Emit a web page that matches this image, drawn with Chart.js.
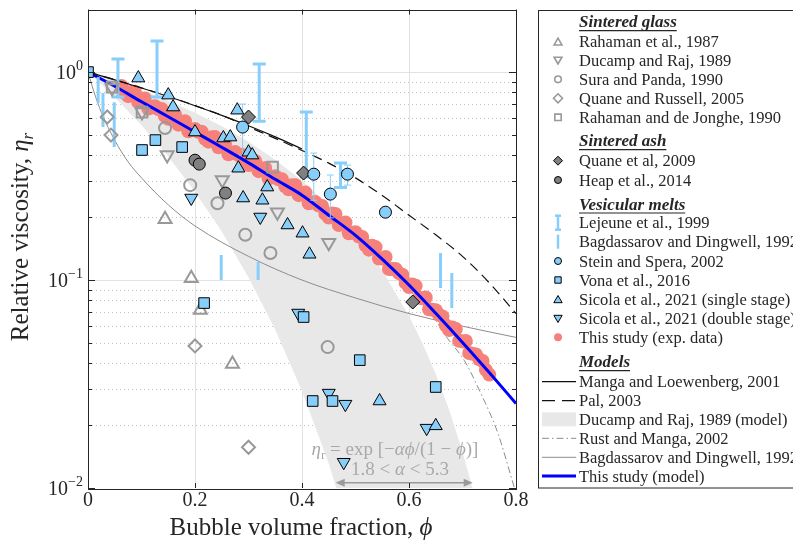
<!DOCTYPE html>
<html>
<head>
<meta charset="utf-8">
<script src="https://cdn.jsdelivr.net/npm/chart.js@4.4.1/dist/chart.umd.min.js"></script>
<style>
  html, body { margin: 0; padding: 0; background: #fff; }
  #wrap { width: 793px; height: 550px; }
</style>
</head>
<body>
<div id="wrap"><canvas id="viscChart" width="793" height="550"></canvas></div>
<script>
// ---- data (phi = bubble volume fraction, eta = relative viscosity) ----

// Sintered glass
const rahaman87Phi = [0.144, 0.193, 0.210, 0.270];
const rahaman87Eta = [0.196, 0.102, 0.0717, 0.0395];
const ducampPhi = [0.045, 0.101, 0.148, 0.251, 0.354, 0.450];
const ducampEta = [0.838, 0.642, 0.399, 0.303, 0.212, 0.151];
const suraPhi = [0.144, 0.191, 0.242, 0.294, 0.341, 0.448];
const suraEta = [0.538, 0.286, 0.234, 0.165, 0.135, 0.0476];
const quaneRussellPhi = [0.036, 0.043, 0.200, 0.300];
const quaneRussellEta = [0.608, 0.498, 0.0482, 0.0157];
const deJonghePhi = [0.045, 0.101, 0.345];
const deJongheEta = [0.847, 0.642, 0.349];

// Sintered ash
const quane09Phi = [0.300, 0.403, 0.607];
const quane09Eta = [0.608, 0.327, 0.0784];
const heapPhi = [0.200, 0.208, 0.257];
const heapEta = [0.377, 0.361, 0.262];

// Vesicular melts
const lejeunePhi = [0.056, 0.129, 0.320, 0.408, 0.472];
const lejeuneLo = [0.758, 0.758, 0.581, 0.313, 0.279];
const lejeuneHi = [1.155, 1.41, 1.093, 0.642, 0.365];
const bagdPhi = [0.019, 0.028, 0.049, 0.249, 0.318, 0.659, 0.680];
const bagdLo = [0.710, 0.544, 0.436, 0.100, 0.100, 0.0916, 0.0734];
const bagdHi = [0.946, 0.793, 0.717, 0.132, 0.122, 0.135, 0.108];
const steinPhi = [0.289, 0.422, 0.453, 0.485, 0.556];
const steinEta = [0.544, 0.323, 0.259, 0.323, 0.212];
const steinErrPhi = [0.289, 0.422, 0.453, 0.485];
const steinLo = [0.399, 0.242, 0.199, 0.286];
const steinHi = [0.702, 0.408, 0.320, 0.357];
const vonaPhi = [0, 0.101, 0.126, 0.176, 0.217, 0.403, 0.420, 0.457, 0.508, 0.650];
const vonaEta = [1, 0.422, 0.471, 0.436, 0.0775, 0.0664, 0.0262, 0.0262, 0.0412, 0.0306];
const sicolaSinglePhi = [0.094, 0.150, 0.159, 0.200, 0.279, 0.253, 0.266, 0.300, 0.307, 0.281,
  0.290, 0.326, 0.335, 0.373, 0.401, 0.414, 0.545, 0.650];
const sicolaSingleEta = [0.936, 0.775, 0.679, 0.515, 0.656, 0.482, 0.487, 0.412, 0.399, 0.345,
  0.248, 0.242, 0.280, 0.184, 0.168, 0.133, 0.0262, 0.0199];
const sicolaDoublePhi = [0.193, 0.322, 0.393, 0.450, 0.481, 0.478, 0.633];
const sicolaDoubleEta = [0.248, 0.201, 0.0694, 0.0286, 0.0253, 0.0133, 0.0194];

// This study, experimental data (dense cloud along the model curve)
const expPhi = [0.0625, 0.075, 0.0875, 0.1, 0.1125, 0.125, 0.1375, 0.15, 0.1625, 0.175, 0.1875, 0.2,
  0.2125, 0.225, 0.2375, 0.25, 0.2625, 0.275, 0.2875, 0.3, 0.3125, 0.325, 0.3375, 0.35, 0.3625, 0.375,
  0.3875, 0.4, 0.4125, 0.425, 0.4375, 0.45, 0.4625, 0.475, 0.4875, 0.5, 0.5125, 0.525, 0.5375, 0.55,
  0.5625, 0.575, 0.5875, 0.6, 0.6125, 0.625, 0.6375, 0.65, 0.6625, 0.675, 0.6875, 0.7, 0.7125, 0.725,
  0.7375, 0.75];
const expEta = [0.857, 0.766, 0.805, 0.728, 0.667, 0.686, 0.665, 0.596, 0.626, 0.567, 0.519, 0.533,
  0.517, 0.463, 0.487, 0.441, 0.403, 0.413, 0.400, 0.357, 0.374, 0.338, 0.308, 0.316, 0.305, 0.273,
  0.286, 0.259, 0.234, 0.237, 0.227, 0.200, 0.208, 0.186, 0.168, 0.170, 0.161, 0.140, 0.144, 0.127,
  0.113, 0.113, 0.106, 0.0925, 0.0938, 0.0818, 0.0723, 0.0716, 0.0668, 0.0575, 0.0582, 0.0507, 0.0446,
  0.0439, 0.0408, 0.0351];
const expPhiB = [0.06875, 0.08125, 0.09375, 0.10625, 0.11875, 0.13125, 0.14375, 0.15625, 0.16875,
  0.18125, 0.19375, 0.20625, 0.21875, 0.23125, 0.24375, 0.25625, 0.26875, 0.28125, 0.29375, 0.30625,
  0.31875, 0.33125, 0.34375, 0.35625, 0.36875, 0.38125, 0.39375, 0.40625, 0.41875, 0.43125, 0.44375,
  0.45625, 0.46875, 0.48125, 0.49375, 0.50625, 0.51875, 0.53125, 0.54375, 0.55625, 0.56875, 0.58125,
  0.59375, 0.60625, 0.61875, 0.63125, 0.64375, 0.65625, 0.66875, 0.68125, 0.69375, 0.70625, 0.71875,
  0.73125, 0.74375];
const expEtaB = [0.792, 0.804, 0.718, 0.746, 0.676, 0.664, 0.615, 0.625, 0.559, 0.581, 0.526, 0.516,
  0.478, 0.486, 0.435, 0.451, 0.408, 0.399, 0.369, 0.374, 0.334, 0.346, 0.312, 0.305, 0.282, 0.286,
  0.256, 0.264, 0.236, 0.228, 0.208, 0.209, 0.184, 0.189, 0.169, 0.162, 0.147, 0.146, 0.127, 0.129,
  0.113, 0.108, 0.0969, 0.0953, 0.0822, 0.0824, 0.0719, 0.0680, 0.0606, 0.0592, 0.0510, 0.0509,
  0.0442, 0.0416, 0.0370];

// Models
const modelPhi = [0, 0.05, 0.1, 0.15, 0.2, 0.25, 0.3, 0.35, 0.4, 0.45, 0.5, 0.55, 0.6, 0.65, 0.7, 0.75, 0.8];
const thisModelEta = [1, 0.855, 0.72, 0.61, 0.515, 0.435, 0.366, 0.305, 0.256, 0.205, 0.164, 0.126,
  0.0946, 0.0692, 0.0501, 0.0359, 0.0255];
const palEta = [1, 0.92, 0.84, 0.765, 0.69, 0.62, 0.545, 0.48, 0.42, 0.365, 0.31, 0.255, 0.205, 0.165,
  0.13, 0.097, 0.069];
const mangaPhi = [0, 0.05, 0.1, 0.15, 0.2, 0.25, 0.3, 0.35, 0.4];
const mangaEta = [1, 0.918, 0.839, 0.763, 0.689, 0.619, 0.552, 0.488, 0.427];
const rustPhi = [0, 0.1, 0.2, 0.3, 0.4, 0.5, 0.6, 0.65, 0.672, 0.703, 0.734, 0.766, 0.791, 0.805];
const rustEta = [1, 0.715, 0.51, 0.36, 0.25, 0.158, 0.09, 0.064, 0.0524, 0.0412, 0.0286, 0.0184, 0.0113, 0.0085];
const bagdCurvePhi = [0, 0.01, 0.025, 0.05, 0.075, 0.1, 0.15, 0.2, 0.3, 0.4, 0.5, 0.6, 0.7, 0.8];
const bagdCurveEta = [1, 0.82, 0.64, 0.47, 0.37, 0.31, 0.23, 0.182, 0.13, 0.10, 0.082, 0.069, 0.06, 0.053];
const bandPhi = [0, 0.05, 0.1, 0.15, 0.2, 0.25, 0.3, 0.35, 0.4, 0.45, 0.5, 0.55, 0.6, 0.625, 0.65,
  0.675, 0.7, 0.725, 0.75];
const bandUpper = [1, 0.910, 0.819, 0.728, 0.638, 0.549, 0.462, 0.379, 0.301, 0.229, 0.165, 0.111,
  0.0672, 0.0498, 0.0353, 0.0238, 0.0150, 0.0087, 0.0045];
const bandLower = [1, 0.757, 0.555, 0.393, 0.266, 0.171, 0.103, 0.0576, 0.0292, 0.0131, 0.0050,
  0.00154, 0.00035, 0.00015, 0.00005, 0.000017, 0.000004, 0.0000009, 0.0000001];
const alphaRange = [0.463, 0.719];   // phi span of the arrow under the band
const arrowEta = 0.0106;

// axis ticks
const xTicks = [0, 0.2, 0.4, 0.6, 0.8];
const xTickLabels = ['0', '0.2', '0.4', '0.6', '0.8'];
const yMajor = [0.01, 0.1, 1];
const yMajorExp = ['\u22122', '\u22121', '0'];
const yMinor = [0.02, 0.03, 0.04, 0.05, 0.06, 0.07, 0.08, 0.09, 0.2, 0.3, 0.4, 0.5, 0.6, 0.7, 0.8, 0.9];

// ---- styling ----
const SERIF = '"Liberation Serif", "DejaVu Serif", serif';
const INK = '#262626';
const LIGHTBLUE = '#87cefa';
const GRAY = '#999999';
const ASH = '#808080';
const SALMON = '#f6817b';
const BAND = '#e8e8e8';
const CLEAR = 'rgba(0,0,0,0)';

const pts = (phi, eta) => phi.map((p, i) => ({ x: p, y: eta[i] }));
const bars = (phi, lo, hi) => phi.flatMap((p, i) => [{ x: p, y: lo[i] }, { x: p, y: hi[i] }, { x: p, y: null }]);

function markers(label, data, style, o) {
  return Object.assign({
    label: label, data: data, showLine: false, pointStyle: style, pointRadius: 6,
    pointRotation: 0, pointBackgroundColor: LIGHTBLUE, pointBorderColor: '#000', pointBorderWidth: 1,
    pointHoverRadius: 6, order: 2
  }, o || {});
}
function curve(label, phi, eta, o) {
  return Object.assign({
    label: label, data: pts(phi, eta), pointRadius: 0, pointHoverRadius: 0, fill: false,
    borderWidth: 1, cubicInterpolationMode: 'monotone', order: 10
  }, o || {});
}
const hollow = { pointBackgroundColor: CLEAR, pointBorderColor: GRAY, pointBorderWidth: 2, order: 4 };
const ash = { pointBackgroundColor: ASH, pointBorderColor: '#000', pointBorderWidth: 1, order: 3 };

const datasets = [
  // Ducamp and Raj model band (upper edge filled down to the lower edge)
  curve('Ducamp and Raj, 1989 (model)', bandPhi, bandUpper,
    { fill: '+1', backgroundColor: BAND, borderColor: CLEAR, borderWidth: 0, cubicInterpolationMode: 'default', tension: 0, order: 30 }),
  curve('band lower', bandPhi, bandLower,
    { borderColor: CLEAR, borderWidth: 0, cubicInterpolationMode: 'default', tension: 0, order: 30 }),
  curve('Bagdassarov and Dingwell, 1992', bagdCurvePhi, bagdCurveEta, { borderColor: '#8c8c8c', order: 20 }),
  curve('Rust and Manga, 2002', rustPhi, rustEta, { borderColor: '#8c8c8c', borderDash: [7, 3, 1.5, 3], order: 20 }),
  markers('This study (exp. data)', pts(expPhi, expEta).concat(pts(expPhiB, expEtaB)), 'circle',
    { pointBackgroundColor: SALMON, pointBorderWidth: 0, pointRadius: 7, order: 15 }),
  curve('This study (model)', modelPhi, thisModelEta, { borderColor: '#0000ff', borderWidth: 3, order: 14 }),
  curve('Manga and Loewenberg, 2001', mangaPhi, mangaEta, { borderColor: '#111', borderWidth: 1.2, order: 12 }),
  curve('Pal, 2003', modelPhi, palEta, { borderColor: '#111', borderWidth: 1.2, borderDash: [10, 6], order: 12 }),
  // sintered glass
  markers('Rahaman et al., 1987', pts(rahaman87Phi, rahaman87Eta), 'triangle', Object.assign({ pointRadius: 7.5 }, hollow)),
  markers('Ducamp and Raj, 1989', pts(ducampPhi, ducampEta), 'triangle', Object.assign({ pointRadius: 7.5, pointRotation: 180 }, hollow)),
  markers('Sura and Panda, 1990', pts(suraPhi, suraEta), 'circle', Object.assign({ pointRadius: 6 }, hollow)),
  markers('Quane and Russell, 2005', pts(quaneRussellPhi, quaneRussellEta), 'rectRot', Object.assign({ pointRadius: 6.5 }, hollow)),
  markers('Rahaman and de Jonghe, 1990', pts(deJonghePhi, deJongheEta), 'rect', Object.assign({ pointRadius: 7.5 }, hollow)),
  // sintered ash
  markers('Quane et al, 2009', pts(quane09Phi, quane09Eta), 'rectRot', Object.assign({ pointRadius: 7 }, ash)),
  markers('Heap et al., 2014', pts(heapPhi, heapEta), 'circle', Object.assign({ pointRadius: 6 }, ash)),
  // vesicular melts
  { label: 'Lejeune et al., 1999', data: bars(lejeunePhi, lejeuneLo, lejeuneHi), spanGaps: false,
    borderColor: LIGHTBLUE, borderWidth: 3, pointStyle: 'line', pointRadius: 6.5, pointBorderWidth: 3,
    pointBorderColor: LIGHTBLUE, pointHoverRadius: 6.5, order: 6 },
  { label: 'Bagdassarov and Dingwell, 1992 (data)', data: bars(bagdPhi, bagdLo, bagdHi), spanGaps: false,
    borderColor: LIGHTBLUE, borderWidth: 3, pointRadius: 0, pointHoverRadius: 0, order: 6 },
  { label: 'Stein and Spera errors', data: bars(steinErrPhi, steinLo, steinHi), spanGaps: false,
    borderColor: LIGHTBLUE, borderWidth: 1, pointStyle: 'line', pointRadius: 3.5, pointBorderWidth: 1,
    pointBorderColor: LIGHTBLUE, pointHoverRadius: 3.5, order: 6 },
  markers('Stein and Spera, 2002', pts(steinPhi, steinEta), 'circle', { pointRadius: 6 }),
  markers('Vona et al., 2016', pts(vonaPhi, vonaEta), 'rect', { pointRadius: 7.5 }),
  markers('Sicola et al., 2021 (single stage)', pts(sicolaSinglePhi, sicolaSingleEta), 'triangle', { pointRadius: 7.5 }),
  markers('Sicola et al., 2021 (double stage)', pts(sicolaDoublePhi, sicolaDoubleEta), 'triangle', { pointRadius: 7.5, pointRotation: 180 })
];

// ---- drawing helpers ----
function runs(ctx, x, y, parts, align) {
  let total = 0;
  parts.forEach(p => { ctx.font = p[1]; total += ctx.measureText(p[0]).width; });
  let cx = align === 'center' ? x - total / 2 : (align === 'right' ? x - total : x);
  ctx.textAlign = 'left';
  parts.forEach(p => {
    ctx.font = p[1];
    ctx.fillText(p[0], cx, y + (p[2] || 0));
    cx += ctx.measureText(p[0]).width;
  });
  return total;
}
function mark(ctx, style, x, y, r, fill, stroke, lw, rot) {
  ctx.save();
  ctx.fillStyle = fill; ctx.strokeStyle = stroke; ctx.lineWidth = lw;
  Chart.helpers.drawPoint(ctx, { pointStyle: style, radius: r, rotation: rot || 0, borderWidth: lw }, x, y);
  ctx.restore();
}
function seg(ctx, x1, y1, x2, y2) {
  ctx.beginPath(); ctx.moveTo(x1, y1); ctx.lineTo(x2, y2); ctx.stroke();
}

const gridPlugin = {
  id: 'gridPlugin',
  beforeDatasetsDraw(chart) {
    const { ctx, chartArea: a, scales: { x, y } } = chart;
    ctx.save();
    ctx.lineWidth = 1;
    ctx.strokeStyle = '#c2c2c2';
    ctx.setLineDash([1, 3]);
    yMinor.forEach(v => { const py = Math.round(y.getPixelForValue(v)) + 0.5; seg(ctx, a.left, py, a.right, py); });
    ctx.setLineDash([]);
    ctx.strokeStyle = '#e2e2e2';
    [0.1, 1].forEach(v => { const py = Math.round(y.getPixelForValue(v)) + 0.5; seg(ctx, a.left, py, a.right, py); });
    [0.2, 0.4, 0.6].forEach(v => { const px = Math.round(x.getPixelForValue(v)) + 0.5; seg(ctx, px, a.top, px, a.bottom); });
    ctx.restore();
  },
  afterDatasetsDraw(chart) {
    const { ctx, chartArea: a, scales: { x, y } } = chart;
    ctx.save();
    // Ducamp & Raj annotation
    ctx.fillStyle = '#a9a9a9';
    ctx.textBaseline = 'alphabetic';
    const cx = 395;
    runs(ctx, cx, 455, [
      ['\u03b7', 'italic 19px ' + SERIF], ['r', '13px ' + SERIF, 4],
      [' = exp [\u2212', '19px ' + SERIF], ['\u03b1\u03d5', 'italic 19px ' + SERIF],
      ['/(1 \u2212 ', '19px ' + SERIF], ['\u03d5', 'italic 19px ' + SERIF], [')]', '19px ' + SERIF]
    ], 'center');
    runs(ctx, cx + 5, 475, [['1.8 < ', '19px ' + SERIF], ['\u03b1', 'italic 19px ' + SERIF], [' < 5.3', '19px ' + SERIF]], 'center');
    const ax1 = x.getPixelForValue(alphaRange[0]), ax2 = x.getPixelForValue(alphaRange[1]);
    const ay = y.getPixelForValue(arrowEta);
    ctx.strokeStyle = '#9a9a9a'; ctx.fillStyle = '#9a9a9a'; ctx.lineWidth = 1.5;
    seg(ctx, ax1 + 4, ay, ax2 - 4, ay);
    [[ax1, 1], [ax2, -1]].forEach(([px, d]) => {
      ctx.beginPath(); ctx.moveTo(px, ay); ctx.lineTo(px + d * 9, ay - 4); ctx.lineTo(px + d * 9, ay + 4); ctx.closePath(); ctx.fill();
    });
    // axes box and ticks
    ctx.strokeStyle = INK; ctx.lineWidth = 1;
    ctx.strokeRect(Math.round(a.left) + 0.5, Math.round(a.top) + 0.5, Math.round(a.right - a.left), Math.round(a.bottom - a.top));
    xTicks.forEach(v => {
      const px = Math.round(x.getPixelForValue(v)) + 0.5;
      seg(ctx, px, a.bottom, px, a.bottom - 5); seg(ctx, px, a.top, px, a.top + 5);
    });
    yMajor.forEach(v => {
      const py = Math.round(y.getPixelForValue(v)) + 0.5;
      seg(ctx, a.left, py, a.left + 7, py); seg(ctx, a.right, py, a.right - 7, py);
    });
    yMinor.concat([2]).forEach(v => {
      const py = Math.round(y.getPixelForValue(v)) + 0.5;
      seg(ctx, a.left, py, a.left + 4, py); seg(ctx, a.right, py, a.right - 4, py);
    });
    ctx.restore();
  },
  afterDraw(chart) {
    const { ctx, chartArea: a, scales: { x, y } } = chart;
    ctx.save();
    ctx.fillStyle = INK;
    ctx.textBaseline = 'alphabetic';
    // tick labels
    xTicks.forEach((v, i) => {
      runs(ctx, x.getPixelForValue(v), a.bottom + 18, [[xTickLabels[i], '20px ' + SERIF]], 'center');
    });
    yMajor.forEach((v, i) => {
      const py = y.getPixelForValue(v);
      runs(ctx, 83, py + 7, [['10', '20px ' + SERIF], [yMajorExp[i], '14px ' + SERIF, -9]], 'right');
    });
    // axis titles
    runs(ctx, 301, 535, [['Bubble volume fraction, ', '25px ' + SERIF], ['\u03d5', 'italic 25px ' + SERIF]], 'center');
    ctx.save();
    ctx.translate(28, 237);
    ctx.rotate(-Math.PI / 2);
    runs(ctx, 0, 0, [['Relative viscosity, ', '25px ' + SERIF], ['\u03b7', 'italic 25px ' + SERIF], ['r', 'italic 17px ' + SERIF, 5]], 'center');
    ctx.restore();

    // legend
    ctx.strokeStyle = INK; ctx.lineWidth = 1;
    ctx.strokeRect(538.5, 10.5, 300, 477.5);
    const legendRows = [
      ['head', 'Sintered glass', 21.7], ['gtri', 'Rahaman et al., 1987', 41.7],
      ['gtrid', 'Ducamp and Raj, 1989', 60.5], ['gcirc', 'Sura and Panda, 1990', 79.3],
      ['gdiam', 'Quane and Russell, 2005', 98.3], ['gsq', 'Rahaman and de Jonghe, 1990', 117.3],
      ['head', 'Sintered ash', 140.7], ['adiam', 'Quane et al, 2009', 160.7], ['acirc', 'Heap et al., 2014', 180],
      ['head', 'Vesicular melts', 204], ['ebar', 'Lejeune et al., 1999', 222.7],
      ['vbar', 'Bagdassarov and Dingwell, 1992', 241.7], ['bcirc', 'Stein and Spera, 2002', 261],
      ['bsq', 'Vona et al., 2016', 280], ['btri', 'Sicola et al., 2021 (single stage)', 299.3],
      ['btrid', 'Sicola et al., 2021 (double stage)', 318.7], ['red', 'This study (exp. data)', 337.3],
      ['head', 'Models', 361.7], ['solid', 'Manga and Loewenberg, 2001', 381.7], ['dash', 'Pal, 2003', 400.7],
      ['band', 'Ducamp and Raj, 1989 (model)', 419.3], ['dashdot', 'Rust and Manga, 2002', 438.3],
      ['thin', 'Bagdassarov and Dingwell, 1992', 457.3], ['blue', 'This study (model)', 476]
    ];
    const tx = 579, mx = 558, l1 = 542, l2 = 576;
    legendRows.forEach(([sym, text, ry]) => {
      ctx.fillStyle = INK;
      if (sym === 'head') {
        const w = runs(ctx, tx, ry + 5.5, [[text, 'italic bold 17px ' + SERIF]], 'left');
        ctx.strokeStyle = INK; ctx.lineWidth = 1.2;
        seg(ctx, tx, ry + 9, tx + w, ry + 9);
        return;
      }
      runs(ctx, tx, ry + 5.5, [[text, '16.5px ' + SERIF]], 'left');
      ctx.save();
      ctx.setLineDash([]);
      switch (sym) {
        case 'gtri': mark(ctx, 'triangle', mx, ry + 1, 4.5, CLEAR, GRAY, 1.6); break;
        case 'gtrid': mark(ctx, 'triangle', mx, ry - 1, 4.5, CLEAR, GRAY, 1.6, 180); break;
        case 'gcirc': mark(ctx, 'circle', mx, ry, 3.3, CLEAR, GRAY, 1.6); break;
        case 'gdiam': mark(ctx, 'rectRot', mx, ry, 4.5, CLEAR, GRAY, 1.6); break;
        case 'gsq': mark(ctx, 'rect', mx, ry, 4.5, CLEAR, GRAY, 1.6); break;
        case 'adiam': mark(ctx, 'rectRot', mx, ry, 4.5, ASH, '#000', 1); break;
        case 'acirc': mark(ctx, 'circle', mx, ry, 3.5, ASH, '#000', 1); break;
        case 'bcirc': mark(ctx, 'circle', mx, ry, 3.5, LIGHTBLUE, '#000', 1); break;
        case 'bsq': mark(ctx, 'rect', mx, ry, 4.5, LIGHTBLUE, '#000', 1); break;
        case 'btri': mark(ctx, 'triangle', mx, ry + 1, 4.8, LIGHTBLUE, '#000', 1); break;
        case 'btrid': mark(ctx, 'triangle', mx, ry - 1, 4.8, LIGHTBLUE, '#000', 1, 180); break;
        case 'red': mark(ctx, 'circle', mx, ry, 4, SALMON, SALMON, 0); break;
        case 'ebar':
          ctx.strokeStyle = LIGHTBLUE; ctx.lineWidth = 2.5;
          seg(ctx, mx, ry - 7, mx, ry + 7); seg(ctx, mx - 3, ry - 7, mx + 3, ry - 7); seg(ctx, mx - 3, ry + 7, mx + 3, ry + 7);
          break;
        case 'vbar':
          ctx.strokeStyle = LIGHTBLUE; ctx.lineWidth = 2.5; seg(ctx, mx, ry - 7, mx, ry + 7); break;
        case 'solid': ctx.strokeStyle = '#111'; ctx.lineWidth = 1.2; seg(ctx, l1, ry, l2, ry); break;
        case 'dash': ctx.strokeStyle = '#111'; ctx.lineWidth = 1.2; ctx.setLineDash([13, 7]); seg(ctx, l1, ry, l2, ry); break;
        case 'band': ctx.fillStyle = BAND; ctx.fillRect(l1, ry - 7, l2 - l1, 14); break;
        case 'dashdot': ctx.strokeStyle = '#8c8c8c'; ctx.lineWidth = 1; ctx.setLineDash([7, 3, 1.5, 3]); seg(ctx, l1, ry, l2, ry); break;
        case 'thin': ctx.strokeStyle = '#8c8c8c'; ctx.lineWidth = 1; seg(ctx, l1, ry, l2, ry); break;
        case 'blue': ctx.strokeStyle = '#0000ff'; ctx.lineWidth = 3; seg(ctx, l1, ry, l2, ry); break;
      }
      ctx.restore();
    });
    ctx.restore();
  }
};

new Chart(document.getElementById('viscChart').getContext('2d'), {
  type: 'line',
  data: { datasets: datasets },
  options: {
    responsive: false,
    animation: false,
    devicePixelRatio: 1,
    layout: { padding: { top: 9, right: 277, left: 0, bottom: 0 } },
    plugins: { legend: { display: false }, tooltip: { enabled: false } },
    scales: {
      x: {
        type: 'linear', min: 0, max: 0.8,
        grid: { display: false }, border: { display: false },
        ticks: { display: false },
        afterFit: s => { s.height = 62; }
      },
      y: {
        type: 'logarithmic', min: 0.01, max: 2,
        grid: { display: false }, border: { display: false },
        ticks: { display: false },
        afterFit: s => { s.width = 88; }
      }
    }
  },
  plugins: [gridPlugin]
});
</script>
</body>
</html>
